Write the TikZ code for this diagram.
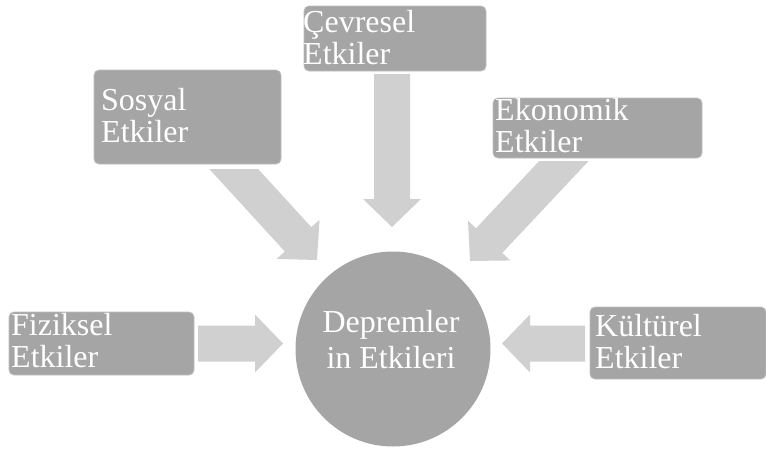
\documentclass[tikz,border=0pt]{standalone}
\usepackage{fontspec}
\setmainfont{Liberation Serif}
\usetikzlibrary{calc}

\definecolor{boxgray}{HTML}{A5A5A5}
\definecolor{boxedge}{HTML}{BEBEBE}
\definecolor{arrowgray}{HTML}{D0D0D0}

% two lines of text; the node's baseline is that of the first line
\newcommand\twoline[3][l]{\begin{tabular}[t]{@{}#1@{}}#2\\#3\end{tabular}}

% wide block arrow from #1 to the tip #2
\newcommand\blockarrow[2]{%
  \path ($(#2)!28pt!(#1)$) coordinate (headbase);
  \fill[arrowgray]
    ($(#1)!18pt!90:(#2)$) -- ($(headbase)!18pt!90:(#2)$) --
    ($(headbase)!29pt!90:(#2)$) -- (#2) --
    ($(headbase)!29pt!-90:(#2)$) -- ($(headbase)!18pt!-90:(#2)$) --
    ($(#1)!18pt!-90:(#2)$) -- cycle;}

\begin{document}
\begin{tikzpicture}[x=1pt, y=-1pt,
  ebox/.style={draw=boxedge, line width=0.8pt, fill=boxgray,
    rounded corners=5pt, inner sep=0pt},
  hub/.style={circle, fill=boxgray, inner sep=0pt, minimum size=195pt},
  etext/.style={text=white, inner sep=0pt,
    font=\fontsize{32}{32}\selectfont}]

\useasboundingbox (0,0) rectangle (766,448);

% arrow end points
\coordinate (cevS) at (392,60);   \coordinate (cevT) at (392,227);
\coordinate (fizS) at (198,343.5);\coordinate (fizT) at (283,343.5);
\coordinate (kulS) at (585,343.5);\coordinate (kulT) at (502,343.5);
\coordinate (sosS) at (220,154);  \coordinate (sosT) at (317,260);
\coordinate (ekoS) at (578,146);  \coordinate (ekoT) at (470,261);

% arrows
\blockarrow{fizS}{fizT}
\blockarrow{kulS}{kulT}
\begin{scope}
  \clip (0,74) rectangle (766,448);
  \blockarrow{cevS}{cevT}
\end{scope}
\begin{scope}
  \clip (0,169) rectangle (766,448);
  \blockarrow{sosS}{sosT}
\end{scope}
\begin{scope}
  \clip (0,161) rectangle (766,448);
  \blockarrow{ekoS}{ekoT}
\end{scope}

% boxes
\node[ebox, minimum width=182pt, minimum height=65pt] (cev) at (395,38.5) {};
\node[ebox, minimum width=187pt, minimum height=94pt] (sos) at (187.5,117) {};
\node[ebox, minimum width=209pt, minimum height=60pt] (eko) at (597.5,128) {};
\node[ebox, minimum width=185pt, minimum height=63pt] (fiz) at (101.5,343.5) {};
\node[ebox, minimum width=176pt, minimum height=72pt] (kul) at (678,343) {};

% centre circle
\node[hub] (dep) at (393,349) {};

% texts
\node[etext, anchor=base west] (cevtext) at (303,32) {\twoline{Çevresel}{Etkiler}};
\node[etext, anchor=base west] (sostext) at (101,110) {\twoline{Sosyal}{Etkiler}};
\node[etext, anchor=base west] (ekotext) at (495,120) {\twoline{Ekonomik}{Etkiler}};
\node[etext, anchor=base west] (fiztext) at (11,335) {\twoline{Fiziksel}{Etkiler}};
\node[etext, anchor=base west] (kultext) at (595,336) {\twoline{Kültürel}{Etkiler}};
\node[etext, anchor=base] (deptext) at (391,332)
  {\def\arraystretch{1.125}\twoline[c]{Depremler}{in Etkileri}};
\end{tikzpicture}
\end{document}
